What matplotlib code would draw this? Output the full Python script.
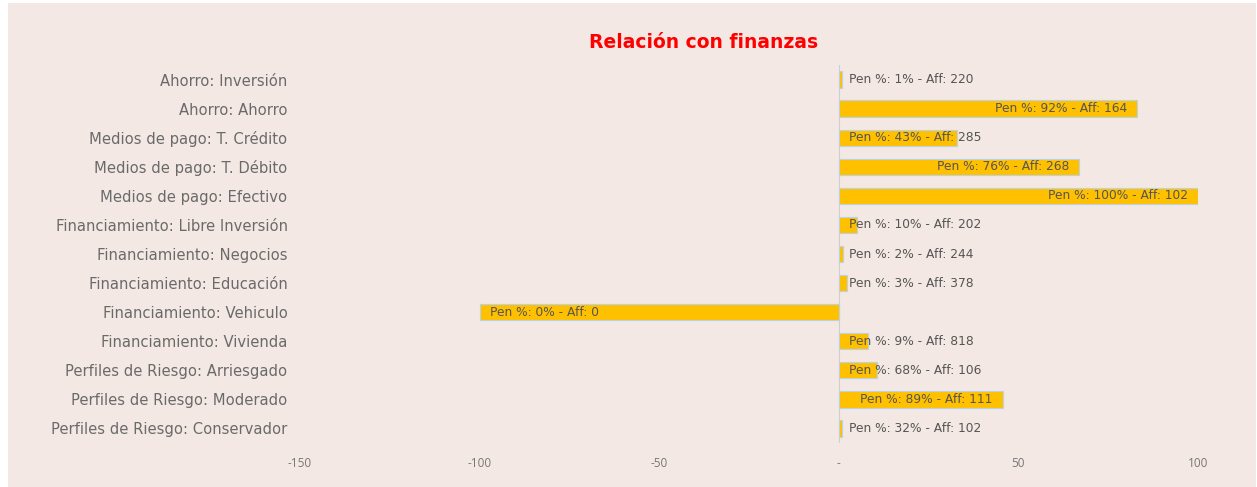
import matplotlib
matplotlib.use("Agg")
import matplotlib.pyplot as plt
from matplotlib.patches import Rectangle

categories = [
    "Ahorro: Inversión",
    "Ahorro: Ahorro",
    "Medios de pago: T. Crédito",
    "Medios de pago: T. Débito",
    "Medios de pago: Efectivo",
    "Financiamiento: Libre Inversión",
    "Financiamiento: Negocios",
    "Financiamiento: Educación",
    "Financiamiento: Vehiculo",
    "Financiamiento: Vivienda",
    "Perfiles de Riesgo: Arriesgado",
    "Perfiles de Riesgo: Moderado",
    "Perfiles de Riesgo: Conservador",
]
values = [1, 83, 33, 67, 100, 5, 1.2, 2.2, -100, 8, 10.7, 45.6, 0.8]
pen = [1, 92, 43, 76, 100, 10, 2, 3, 0, 9, 68, 89, 32]
aff = [220, 164, 285, 268, 102, 202, 244, 378, 0, 818, 106, 111, 102]
xticks = [-150, -100, -50, 0, 50, 100]
xticklabels = ["-150", "-100", "-50", "-", "50", "100"]

bg = "#F3E8E3"
W, H = 1257, 487
fig = plt.figure(figsize=(W / 100, H / 100), dpi=100, facecolor="white")
fig.patches.append(Rectangle((8 / W, 0), (W - 9) / W, (H - 3) / H,
                             transform=fig.transFigure, facecolor=bg,
                             edgecolor="none", zorder=-10))

ax = fig.add_axes([300 / W, 1 - 443 / H, (1198 - 300) / W, (443 - 65) / H])
ax.set_facecolor("none")
font = "DejaVu Sans"

y = list(range(len(categories)))
ax.barh(y, values, height=0.56, color="#FFC000", edgecolor="#B9D3E3",
        linewidth=0.8, zorder=2)
ax.axvline(0, color="#CFCFCF", linewidth=0.8, zorder=1)
ax.set_xlim(-150, 100)
ax.set_ylim(len(categories) - 0.5, -0.5)

ax.set_yticks(y)
ax.set_yticklabels(categories, fontsize=10.6, color="#6A6A6A", family=font)
ax.set_xticks(xticks)
ax.set_xticklabels(xticklabels, fontsize=8.5, color="#777777", family="Open Sans")
ax.tick_params(length=0, pad=9, axis="y")
ax.tick_params(length=0, pad=10, axis="x")
for s in ax.spines.values():
    s.set_visible(False)

fig.canvas.draw()
renderer = fig.canvas.get_renderer()
for i, v in enumerate(values):
    label = f"Pen %: {pen[i]}% - Aff: {aff[i]}"
    t = ax.annotate(label, (0, i), xytext=(7.2, 0), textcoords="offset points",
                    ha="left", va="center", fontsize=8.8, color="#555555",
                    family=font, zorder=3)
    tw = t.get_window_extent(renderer).width
    bar_px = abs(ax.transData.transform((v, 0))[0] - ax.transData.transform((0, 0))[0])
    if tw + 20 < bar_px:
        t.xy = (v, i)
        if v > 0:
            t.set_position((-7.2, 0))
            t.set_ha("right")

fig.text(704 / W, 1 - 42 / H, "Relación con finanzas", ha="center", va="center",
         fontsize=13.5, fontweight="bold", color="#FF0000", family=font)

fig.savefig("out.png", dpi=100, facecolor="white")
